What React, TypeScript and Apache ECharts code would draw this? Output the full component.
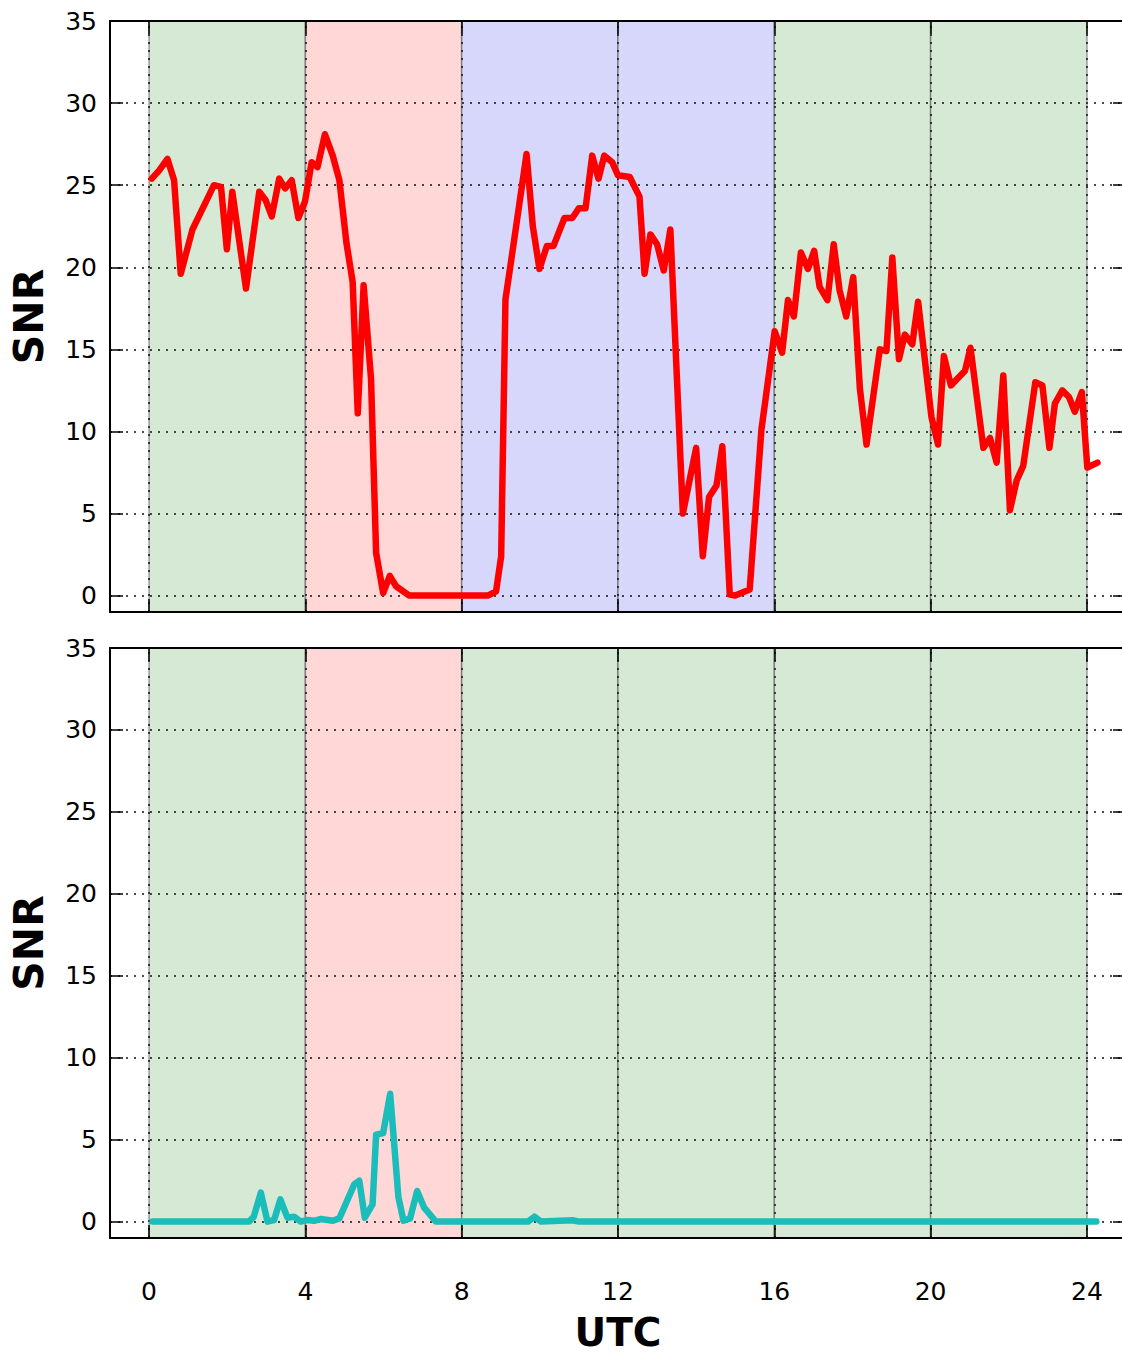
import React, { useEffect, useRef } from "react";
import * as echarts from "echarts";

// ---- data ----
const upperHours = [
  0.07, 0.26, 0.47, 0.64, 0.81, 1.11, 1.66, 1.84, 1.99, 2.13, 2.48, 2.82, 2.98, 3.14, 3.33, 3.48, 3.65, 3.82, 3.99,
  4.16, 4.31, 4.5, 4.7, 4.87, 5.05, 5.21, 5.34, 5.49, 5.68, 5.81, 5.99, 6.16, 6.32, 6.66, 8.67, 8.88, 9.01, 9.12,
  9.26, 9.66, 9.82, 9.99, 10.18, 10.35, 10.63, 10.83, 11.0, 11.17, 11.34, 11.5, 11.65, 11.85, 12.0, 12.3, 12.55,
  12.68, 12.83, 13.0, 13.17, 13.34, 13.66, 14.0, 14.17, 14.33, 14.52, 14.67, 14.86, 15.0, 15.37, 15.67, 16.01,
  16.2, 16.35, 16.5, 16.68, 16.86, 17.02, 17.16, 17.36, 17.52, 17.67, 17.84, 18.02, 18.19, 18.36, 18.7, 18.87,
  19.02, 19.19, 19.34, 19.53, 19.68, 20.02, 20.19, 20.34, 20.52, 20.88, 21.02, 21.35, 21.52, 21.69, 21.86, 22.03,
  22.2, 22.37, 22.68, 22.86, 23.04, 23.18, 23.37, 23.54, 23.69, 23.87, 24.01, 24.27,
];
const upperSnr = [
  25.4, 25.9, 26.6, 25.3, 19.6, 22.3, 25.0, 24.9, 21.1, 24.6, 18.7, 24.6, 24.1, 23.1, 25.4, 24.8, 25.3, 23.0, 24.0,
  26.4, 26.1, 28.1, 26.8, 25.3, 21.5, 19.1, 11.1, 18.9, 13.2, 2.6, 0.16, 1.2, 0.57, 0.0, 0.0, 0.26, 2.4, 18.05,
  20.3, 26.9, 22.5, 19.9, 21.3, 21.3, 23.0, 23.0, 23.6, 23.6, 26.8, 25.4, 26.8, 26.4, 25.6, 25.5, 24.3,
  19.6, 22.0, 21.4, 19.8, 22.3, 5.0, 9.0, 2.4, 6.0, 6.7, 9.1, 0.06, 0.0, 0.37, 10.1, 16.1,
  14.8, 18.0, 17.0, 20.9, 19.9, 21.0, 18.8, 18.0, 21.4, 18.6, 17.0, 19.4, 12.6, 9.2, 15.0, 14.9,
  20.6, 14.4, 15.9, 15.3, 17.9, 10.9, 9.2, 14.6, 12.8, 13.7, 15.1, 9.0, 9.6, 8.1, 13.4, 5.2,
  7.0, 7.9, 13.0, 12.8, 9.0, 11.7, 12.5, 12.1, 11.2, 12.4, 7.8, 8.1,
];
const lowerHours = [
  0.09, 2.56, 2.68, 2.86, 3.03, 3.2, 3.36, 3.54, 3.71, 3.88, 4.05, 4.22, 4.4, 4.7, 4.87, 5.25, 5.38, 5.52, 5.72,
  5.81, 5.99, 6.17, 6.38, 6.51, 6.68, 6.86, 7.04, 7.34, 9.7, 9.86, 10.03, 10.84, 11.0, 24.24,
];
const lowerSnr = [
  0, 0, 0.3, 1.77, 0, 0.1, 1.36, 0.24, 0.3, 0, 0.1, 0.05, 0.16, 0.05, 0.2, 2.27, 2.5, 0.24, 1.05,
  5.3, 5.4, 7.8, 1.5, 0.05, 0.2, 1.87, 0.85, 0, 0, 0.3, 0, 0.08, 0, 0,
];
const xTicks = [0, 4, 8, 12, 16, 20, 24];
const yTicks = [0, 5, 10, 15, 20, 25, 30, 35];
const upperBands = ["day", "night", "dawn", "dawn", "day", "day"];
const lowerBands = ["day", "night", "day", "day", "day", "day"];

const BAND_COLORS: Record<string, string> = {
  day: "#d6e9d5",
  night: "#ffd7d7",
  dawn: "#d7d7fb",
};
const FONT = "DejaVu Sans";

function bandAreas(kinds: string[]) {
  return kinds.map((k, i) => [
    {
      xAxis: xTicks[i],
      itemStyle: { color: BAND_COLORS[k], borderColor: "rgba(70,70,70,0.5)", borderWidth: 1.5 },
    },
    { xAxis: xTicks[i + 1] },
  ]);
}

function gridLines() {
  return [...xTicks.map((v) => ({ xAxis: v })), ...yTicks.map((v) => ({ yAxis: v }))];
}

export default function App() {
  const ref = useRef<HTMLDivElement>(null);
  useEffect(() => {
    if (!ref.current) return;
    const chart = echarts.init(ref.current, undefined, { renderer: "svg" });

    const xBase = (gridIndex: number, position: "bottom" | "top", labels: boolean, name?: string) => ({
      type: "value",
      gridIndex,
      position,
      min: -1,
      max: 25,
      z: 6,
      name: name || "",
      nameLocation: "middle",
      nameGap: 75,
      nameTextStyle: { fontFamily: FONT, fontSize: 39, lineHeight: 39, fontWeight: "bold", color: "#000" },
      axisLine: { show: true, onZero: false, lineStyle: { color: "#000", width: 2 } },
      axisTick: { show: true, inside: true, length: 13, customValues: xTicks, lineStyle: { color: "#000", width: 1.5 } },
      axisLabel: {
        show: labels,
        customValues: xTicks,
        margin: 41,
        fontFamily: FONT,
        fontSize: 25,
        color: "#000",
      },
      splitLine: { show: false },
    });
    const yBase = (gridIndex: number, position: "left" | "right", labels: boolean, name?: string) => ({
      type: "value",
      gridIndex,
      position,
      min: -1,
      max: 35,
      z: 6,
      name: name || "",
      nameLocation: "middle",
      nameRotate: 90,
      nameGap: 61,
      nameTextStyle: { fontFamily: FONT, fontSize: 41, fontWeight: "bold", color: "#000" },
      axisLine: { show: true, onZero: false, lineStyle: { color: "#000", width: 2 } },
      axisTick: { show: true, inside: true, length: 13, customValues: yTicks, lineStyle: { color: "#000", width: 1.5 } },
      axisLabel: {
        show: labels,
        customValues: yTicks,
        margin: 13,
        fontFamily: FONT,
        fontSize: 25,
        color: "#000",
      },
      splitLine: { show: false },
    });

    const markLine = {
      silent: true,
      z: 2,
      symbol: ["none", "none"],
      label: { show: false },
      emphasis: { disabled: true },
      lineStyle: { type: [2, 6], color: "#111", width: 1.5 },
      data: gridLines(),
    };

    const option: any = {
      animation: false,
      backgroundColor: "#fff",
      textStyle: { fontFamily: FONT },
      grid: [
        { left: 110, top: 21, width: 1016, height: 591, containLabel: false },
        { left: 110, top: 648, width: 1016, height: 590, containLabel: false },
      ],
      xAxis: [
        xBase(0, "bottom", false),
        xBase(0, "top", false),
        xBase(1, "bottom", true, "UTC"),
        xBase(1, "top", false),
      ],
      yAxis: [
        yBase(0, "left", true, "SNR"),
        yBase(0, "right", false),
        yBase(1, "left", true, "SNR"),
        yBase(1, "right", false),
      ],
      series: [
        {
          type: "line",
          xAxisIndex: 0,
          yAxisIndex: 0,
          z: 3,
          data: upperHours.map((h, i) => [h, upperSnr[i]]),
          showSymbol: false,
          symbol: "none",
          lineStyle: { color: "#ff0000", width: 6.5, join: "round", cap: "round" },
          markArea: { silent: true, z: 1, data: bandAreas(upperBands) },
          markLine,
        },
        {
          type: "line",
          xAxisIndex: 2,
          yAxisIndex: 2,
          z: 3,
          data: lowerHours.map((h, i) => [h, lowerSnr[i]]),
          showSymbol: false,
          symbol: "none",
          lineStyle: { color: "#1bbdbb", width: 6.5, join: "round", cap: "round" },
          markArea: { silent: true, z: 1, data: bandAreas(lowerBands) },
          markLine,
        },
      ],
    };
    chart.setOption(option);
    return () => chart.dispose();
  }, []);
  return (
    <div
      style={{
        position: "absolute",
        left: 0,
        top: 0,
        width: 1122,
        height: 1358,
        overflow: "hidden",
        background: "#fff",
      }}
    >
      <div ref={ref} style={{ width: 1140, height: 1358 }} />
    </div>
  );
}
